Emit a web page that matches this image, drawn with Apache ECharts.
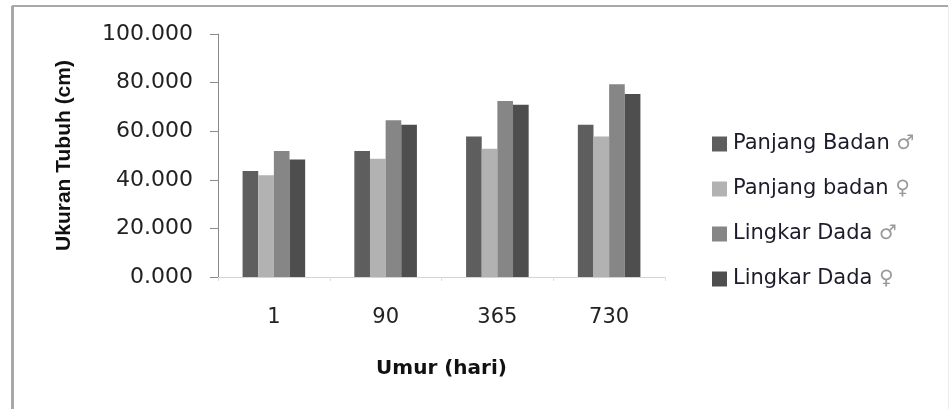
<!DOCTYPE html>
<html>
<head>
<meta charset="utf-8">
<script src="https://cdn.jsdelivr.net/npm/echarts@6/dist/echarts.min.js"></script>
<style>
html,body{margin:0;padding:0;background:#fff;}
#chart{width:952px;height:409px;}
</style>
</head>
<body>
<div id="chart"></div>
<script>
var categories = ['1', '90', '365', '730'];
var seriesNames = ['Panjang Badan ♂', 'Panjang badan ♀', 'Lingkar Dada ♂', 'Lingkar Dada ♀'];
var panjangBadanJantan = [43.6, 51.9, 57.8, 62.7];
var panjangBadanBetina = [41.9, 48.7, 52.8, 57.8];
var lingkarDadaJantan = [51.9, 64.5, 72.4, 79.3];
var lingkarDadaBetina = [48.4, 62.7, 70.9, 75.3];
var yTicks = [0, 20, 40, 60, 80, 100];
var colors = ['#5e5e5e', '#b2b2b2', '#868686', '#4e4e4e'];

var values = [panjangBadanJantan, panjangBadanBetina, lingkarDadaJantan, lingkarDadaBetina];

var chart = echarts.init(document.getElementById('chart'));
var option = {
  animation: false,
  backgroundColor: '#ffffff',
  color: colors,
  grid: { left: 218, right: 287, top: 34, bottom: 132, containLabel: false },
  legend: {
    orient: 'vertical',
    left: 707,
    top: 128,
    icon: 'rect',
    itemWidth: 15,
    itemHeight: 15,
    itemGap: 23,
    data: seriesNames,
    formatter: function (name) {
      return name.replace(/ (♂|♀)$/, ' {s|$1}');
    },
    textStyle: {
      fontFamily: 'DejaVu Sans',
      fontSize: 21,
      color: '#1c1c2a',
      lineHeight: 22,
      padding: [0, 0, 0, 1],
      rich: {
        s: { fontFamily: 'DejaVu Sans', fontSize: 20, color: '#9a9a9a' }
      }
    }
  },
  xAxis: {
    type: 'category',
    data: categories,
    name: 'Umur (hari)',
    nameLocation: 'middle',
    nameGap: 82,
    nameTextStyle: { fontFamily: 'DejaVu Sans', fontWeight: 'bold', fontSize: 20, color: '#111' },
    axisLine: { show: true, lineStyle: { color: '#d4d4d4', width: 1 } },
    axisTick: { show: true, length: 4, lineStyle: { color: '#e0e0e0' } },
    axisLabel: { margin: 30, fontFamily: 'DejaVu Sans', fontSize: 21, color: '#222' }
  },
  yAxis: {
    type: 'value',
    min: 0,
    max: 100,
    interval: 20,
    name: 'Ukuran Tubuh (cm)',
    nameLocation: 'middle',
    nameRotate: 90,
    nameGap: 143,
    nameTextStyle: { fontFamily: 'Liberation Sans', fontWeight: 'bold', fontSize: 21, color: '#111' },
    axisLine: { show: true, lineStyle: { color: '#8a8a8a', width: 1 } },
    axisTick: { show: true, inside: false, length: 8, lineStyle: { color: '#8a8a8a' } },
    splitLine: { show: false },
    axisLabel: {
      margin: 25,
      fontFamily: 'DejaVu Sans',
      fontSize: 22,
      color: '#222',
      formatter: function (v) { return v.toFixed(3); }
    }
  },
  graphic: [
    { type: 'line', shape: { x1: 12, y1: 6, x2: 948, y2: 6 }, style: { stroke: '#a8a8a8', lineWidth: 2 }, silent: true },
    { type: 'line', shape: { x1: 12.5, y1: 6, x2: 12.5, y2: 409 }, style: { stroke: '#a8a8a8', lineWidth: 3 }, silent: true },
    { type: 'line', shape: { x1: 948.5, y1: 6, x2: 948.5, y2: 409 }, style: { stroke: '#ececec', lineWidth: 1 }, silent: true }
  ],
  series: seriesNames.map(function (n, i) {
    return {
      name: n,
      type: 'bar',
      data: values[i],
      barGap: '0%',
      barCategoryGap: '44%',
      itemStyle: { color: colors[i] }
    };
  })
};
chart.setOption(option);
</script>
</body>
</html>
